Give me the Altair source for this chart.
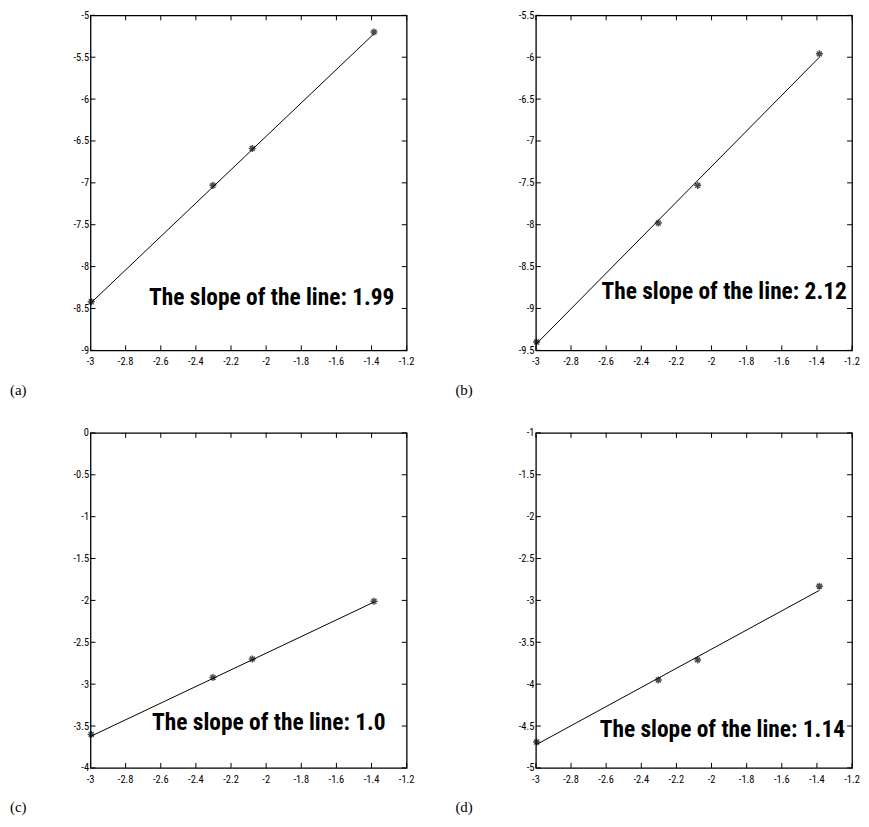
import altair as alt
import pandas as pd

# ---- data ----
x_points = [-2.996, -2.303, -2.079, -1.386]
fit_x = [-2.996, -1.386]

y_a = [-8.42, -7.03, -6.59, -5.20]
y_b = [-9.40, -7.98, -7.53, -5.96]
y_c = [-3.60, -2.92, -2.70, -2.01]
y_d = [-4.69, -3.95, -3.71, -2.83]

fit_a = [-8.43, -5.22]
fit_b = [-9.42, -6.00]
fit_c = [-3.62, -2.02]
fit_d = [-4.72, -2.88]

slopes = ["1.99", "2.12", "1.0", "1.14"]
captions = ["(a)", "(b)", "(c)", "(d)"]

x_domain = [-3, -1.2]
x_ticks = [-3, -2.8, -2.6, -2.4, -2.2, -2, -1.8, -1.6, -1.4, -1.2]

y_domains = [[-9, -5], [-9.5, -5.5], [-4, 0], [-5, -1]]
y_ticks_list = [
    [-9, -8.5, -8, -7.5, -7, -6.5, -6, -5.5, -5],
    [-9.5, -9, -8.5, -8, -7.5, -7, -6.5, -6, -5.5],
    [-4, -3.5, -3, -2.5, -2, -1.5, -1, -0.5, 0],
    [-5, -4.5, -4, -3.5, -3, -2.5, -2, -1.5, -1],
]
# annotation anchor (right end, vertical middle) in data coordinates
text_x = [-1.27, -1.23, -1.32, -1.24]
text_y = [-8.38, -8.80, -3.46, -4.55]

W, H = 318, 337
TICK = 5
LABEL_FONT = "Roboto Condensed"
TEXT_FONT = "Roboto Condensed"
ASTERISK = "M-1,0L1,0M0,-1L0,1M-0.7,-0.7L0.7,0.7M-0.7,0.7L0.7,-0.7"
HYPHEN_EXPR = "replace(datum.label, '\u2212', '-')"


def panel(i):
    pts = pd.DataFrame({"x": x_points, "y": [y_a, y_b, y_c, y_d][i]})
    fit = pd.DataFrame({"x": fit_x, "y": [fit_a, fit_b, fit_c, fit_d][i]})
    xt = pd.DataFrame({"x": x_ticks, "lab": [f"{v:g}" for v in x_ticks]})
    yt = pd.DataFrame({"y": y_ticks_list[i]})

    xs = alt.Scale(domain=x_domain, nice=False, zero=False)
    ysc = alt.Scale(domain=y_domains[i], nice=False, zero=False)

    yaxis = alt.Axis(values=y_ticks_list[i], format="~g", labelExpr=HYPHEN_EXPR,
                     ticks=False, domain=False, grid=False, title=None,
                     labelFont=LABEL_FONT, labelFontSize=10.5, labelPadding=2,
                     labelColor="black", labelOverlap=False, labelFlush=False)
    X = lambda: alt.X("x:Q", scale=xs, axis=None)
    Y = lambda: alt.Y("y:Q", scale=ysc, axis=yaxis)

    line = alt.Chart(fit).mark_line(color="black", strokeWidth=1).encode(x=X(), y=Y())
    points = alt.Chart(pts).mark_point(
        shape=ASTERISK, size=50, filled=False, color="black", strokeWidth=1.5
    ).encode(x=X(), y=Y())

    top_ticks = alt.Chart(xt).mark_rule(color="black", strokeWidth=1).encode(
        x=X(), y=alt.value(0), y2=alt.value(TICK))
    bot_ticks = alt.Chart(xt).mark_rule(color="black", strokeWidth=1).encode(
        x=X(), y=alt.value(H), y2=alt.value(H - TICK))
    x_labels = alt.Chart(xt).mark_text(
        font=LABEL_FONT, fontSize=10.5, color="black", align="center",
        baseline="middle"
    ).encode(x=X(), y=alt.value(H + 12), text="lab:N")
    left_ticks = alt.Chart(yt).mark_rule(color="black", strokeWidth=1).encode(
        y=Y(), x=alt.value(0), x2=alt.value(TICK))
    right_ticks = alt.Chart(yt).mark_rule(color="black", strokeWidth=1).encode(
        y=Y(), x=alt.value(W), x2=alt.value(W - TICK))

    label = alt.Chart(pd.DataFrame({"t": ["The slope of the line: " + slopes[i]]})).mark_text(
        align="right", baseline="middle", font=TEXT_FONT, fontSize=23.5,
        fontWeight="bold", color="black"
    ).encode(x=alt.datum(text_x[i]), y=alt.datum(text_y[i]), text="t:N")

    return alt.layer(
        line, points, top_ticks, bot_ticks, left_ticks, right_ticks, x_labels, label
    ).properties(
        width=W, height=H,
        title=alt.TitleParams(captions[i], orient="bottom", anchor="start",
                              frame="group", dx=-81, offset=15,
                              font="Liberation Serif", fontSize=15,
                              fontWeight="normal", color="black"),
    )


row1 = alt.hconcat(panel(0), panel(1), spacing=39)
row2 = alt.hconcat(panel(2), panel(3), spacing=39)
chart = alt.vconcat(row1, row2, spacing=28).properties(
    padding={"left": 1, "top": -1, "right": 0, "bottom": 0}
).configure(background="white").configure_view(
    stroke="black", strokeWidth=1.3
).configure_axis(labelOverlap=False)

chart.save("out.html", embed_options={"renderer": "svg", "actions": False})
